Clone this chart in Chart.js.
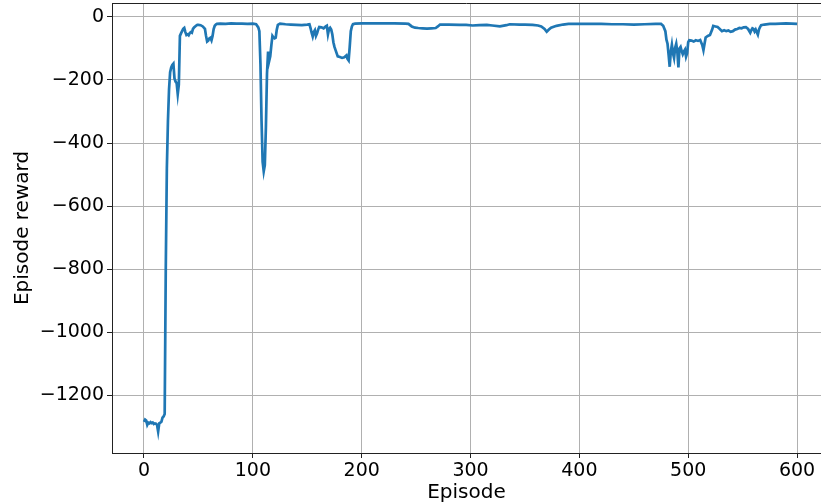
<!DOCTYPE html>
<html>
<head>
<meta charset="utf-8">
<script src="https://cdn.jsdelivr.net/npm/chart.js@4.4.1/dist/chart.umd.min.js"></script>
<style>
  html, body { margin: 0; padding: 0; background: #fff; }
</style>
</head>
<body>
<canvas id="myChart" width="821" height="504"></canvas>
<script>
// Episode numbers and the reward at each one
var episodes = [
    0, 1, 2, 3, 4, 5, 6, 7, 8, 9, 10, 11, 12, 13, 14, 15, 16, 17, 18, 19,
    20, 21, 22, 23, 24, 25, 26, 27, 28, 29, 30, 31, 32, 33, 34, 35, 36, 37, 38, 39,
    40, 41, 42, 43, 44, 45, 46, 47, 48, 49, 50, 52, 54, 56, 57, 58, 59, 60, 61, 62,
    63, 64, 65, 66, 67, 70, 75, 80, 85, 90, 95, 100, 103, 105, 106, 107, 108, 109, 110, 111,
    112, 113, 114, 115, 116, 117, 118, 119, 120, 121, 122, 123, 125, 130, 135, 140, 145, 150, 152, 153,
    154, 155, 156, 157, 158, 159, 160, 161, 163, 165, 167, 168, 169, 170, 171, 172, 173, 174, 175, 176,
    178, 180, 182, 184, 186, 187, 188, 189, 190, 191, 192, 194, 200, 210, 220, 230, 240, 243, 246, 249,
    252, 256, 260, 264, 268, 270, 272, 280, 290, 296, 302, 308, 315, 320, 327, 333, 336, 345, 350, 357,
    362, 365, 368, 370, 372, 374, 379, 385, 390, 400, 410, 420, 430, 440, 450, 460, 470, 475, 477, 479,
    480, 481, 482, 483, 484, 485, 486, 487, 488, 489, 490, 491, 492, 493, 494, 495, 496, 497, 498, 499,
    500, 501, 503, 505, 507, 509, 511, 513, 514, 515, 516, 518, 520, 522, 523, 525, 527, 529, 531, 533,
    535, 537, 539, 541, 543, 545, 547, 549, 551, 553, 555, 557, 558, 559, 560, 561, 562, 563, 564, 565,
    566, 567, 570, 575, 580, 585, 590, 595, 600
];
var rewards = [
    -1285, -1278, -1281, -1295, -1288, -1290, -1286, -1289, -1287, -1292, -1290, -1291, -1295, -1316, -1290, -1288, -1285, -1272, -1268, -1260,
    -800, -480, -330, -230, -175, -160, -152, -148, -195, -205, -210, -245, -215, -60, -52, -45, -38, -35, -48, -57,
    -55, -58, -51, -48, -50, -38, -33, -30, -27, -25, -25, -26, -30, -38, -60, -78, -75, -68, -66, -74,
    -60, -38, -28, -24, -22, -21, -22, -20, -21, -21, -22, -21, -23, -33, -45, -150, -330, -460, -490, -470,
    -350, -180, -110, -140, -125, -90, -60, -65, -68, -66, -40, -25, -21, -23, -24, -25, -26, -24, -23, -35,
    -50, -62, -48, -42, -60, -52, -40, -32, -33, -36, -30, -28, -55, -38, -34, -40, -55, -80, -95, -105,
    -125, -127, -130, -128, -122, -133, -138, -95, -45, -30, -23, -21, -20, -20, -20, -20, -21, -22, -30, -34,
    -35, -36, -37, -36, -35, -30, -24, -24, -25, -25, -27, -26, -25, -27, -30, -26, -23, -24, -24, -25,
    -27, -30, -38, -47, -40, -34, -28, -24, -22, -22, -22, -22, -23, -23, -24, -23, -22, -22, -28, -45,
    -72, -85, -120, -158, -110, -88, -115, -130, -98, -85, -110, -160, -100, -95, -108, -118, -110, -104, -126, -115,
    -80, -74, -75, -78, -74, -76, -73, -90, -105, -85, -65, -60, -57, -40, -28, -30, -32, -38, -45, -42,
    -45, -43, -47, -45, -40, -38, -35, -36, -33, -32, -38, -50, -42, -36, -38, -46, -40, -48, -56, -40,
    -32, -26, -24, -22, -22, -21, -20, -21, -22
];

// Tick labels
var xTicks = [0, 100, 200, 300, 400, 500, 600];
var yTicks = [-1200, -1000, -800, -600, -400, -200, 0];

var points = [];
for (var i = 0; i < episodes.length; i++) {
    points.push({ x: episodes[i], y: rewards[i] });
}

// Matplotlib style minus sign
function fmt(v) {
    return v < 0 ? "\u2212" + Math.abs(v) : String(v);
}

// Top spine
var topSpine = {
    id: "topSpine",
    afterDraw: function(chart) {
        var a = chart.chartArea;
        var c = chart.ctx;
        c.save();
        c.strokeStyle = "#222";
        c.lineWidth = 1;
        c.beginPath();
        c.moveTo(a.left, a.top + 0.5);
        c.lineTo(a.right, a.top + 0.5);
        c.stroke();
        c.restore();
    }
};

var font = { family: "DejaVu Sans", size: 19 };
var titleFont = { family: "DejaVu Sans", size: 20 };

var ctx = document.getElementById("myChart").getContext("2d");
var myChart = new Chart(ctx, {
    type: "line",
    data: {
        datasets: [{
            data: points,
            borderColor: "#1f77b4",
            borderWidth: 2.7,
            pointRadius: 0,
            tension: 0,
            fill: false
        }]
    },
    options: {
        responsive: false,
        animation: false,
        devicePixelRatio: 1,
        layout: { padding: { top: 3, left: 0, right: 0, bottom: 0 } },
        plugins: {
            legend: { display: false },
            tooltip: { enabled: false }
        },
        scales: {
            x: {
                type: "linear",
                min: -29.4,
                max: 622,
                afterFit: function(scale) {
                    scale.height = 51;
                    scale.paddingLeft = 0;
                    scale.paddingRight = 0;
                },
                afterBuildTicks: function(scale) {
                    scale.ticks = xTicks.map(function(v) { return { value: v }; });
                },
                grid: { color: "#b0b0b0", lineWidth: 1, tickLength: 5, tickColor: "#222" },
                border: { display: true, color: "#222", width: 1 },
                ticks: {
                    color: "#000",
                    font: font,
                    padding: 2,
                    maxRotation: 0,
                    callback: function(v) { return fmt(v); }
                },
                title: {
                    display: true,
                    text: "Episode",
                    color: "#000",
                    font: titleFont,
                    padding: { top: 0, bottom: -1 }
                }
            },
            y: {
                type: "linear",
                min: -1384,
                max: 44.4,
                afterFit: function(scale) {
                    scale.width = 112;
                    scale.paddingTop = 0;
                    scale.paddingBottom = 0;
                },
                afterBuildTicks: function(scale) {
                    scale.ticks = yTicks.map(function(v) { return { value: v }; });
                },
                grid: { color: "#b0b0b0", lineWidth: 1, tickLength: 5, tickColor: "#222" },
                border: { display: true, color: "#222", width: 1 },
                ticks: {
                    color: "#000",
                    font: font,
                    padding: 3,
                    callback: function(v) { return fmt(v); }
                },
                title: {
                    display: true,
                    text: "Episode reward",
                    color: "#000",
                    font: titleFont,
                    padding: { top: 11, bottom: 0 }
                }
            }
        }
    },
    plugins: [topSpine]
});
</script>
</body>
</html>
